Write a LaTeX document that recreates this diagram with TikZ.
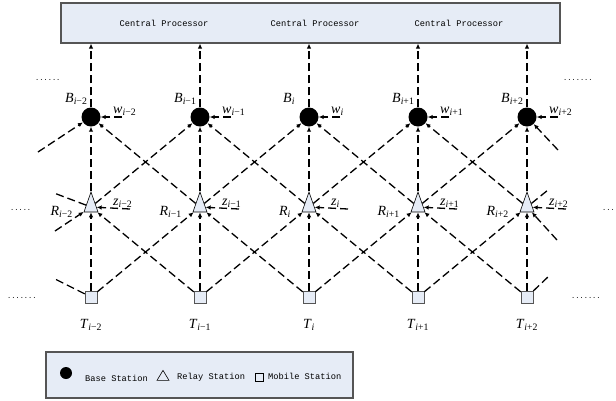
\documentclass[tikz,border=0pt]{standalone}
\usepackage{fontspec}
\setmainfont{Liberation Serif}
\setmonofont{Liberation Mono}
\usepackage{tikz}
\usetikzlibrary{shapes.geometric, arrows.meta, positioning}

\definecolor{panel}{RGB}{230,236,246}
\definecolor{frame}{RGB}{85,85,85}
\newcommand{\lbl}[2]{\textit{#1}\textsubscript{\textit{i}#2}}

\begin{document}
\begin{tikzpicture}[
  x=1pt, y=-1pt,
  panelbox/.style={rectangle, draw=frame, line width=1.2pt, fill=panel},
  bsnode/.style={circle, fill=black, minimum size=19pt, inner sep=0pt},
  rsnode/.style={isosceles triangle, isosceles triangle stretches,
                 shape border rotate=90, draw=black, line width=0.6pt,
                 fill=panel, minimum width=14pt, minimum height=20pt, inner sep=0pt},
  msnode/.style={rectangle, draw=frame, line width=0.6pt, fill=panel,
                 minimum size=12pt, inner sep=0pt},
  caption/.style={font=\fontsize{8.7}{10}\ttfamily, inner sep=0pt},
  mathlbl/.style={font=\fontsize{14}{16}\selectfont, inner sep=0pt},
  dots/.style={font=\fontsize{7}{8}\ttfamily, inner sep=0pt},
  link/.style={line width=1.3pt, dash pattern=on 8pt off 4pt},
  arrow/.style={link, -{Latex[length=5pt,width=4.5pt]}}
]
\useasboundingbox (0,0) rectangle (616,400);

% central processor
\node[panelbox, minimum width=499pt, minimum height=40pt] (cpu) at (310.5,23) {};
\node[caption, anchor=base] (cp1) at (164,26) {Central Processor};
\node[caption, anchor=base] (cp2) at (315,26) {Central Processor};
\node[caption, anchor=base] (cp3) at (459,26) {Central Processor};

% stations, labels and own links
\foreach \k/\s in {1/{−2},2/{−1},3/{},4/{+1},5/{+2}} {
  \pgfmathsetmacro\x{91+109*(\k-1)}
  \node[bsnode] (bs\k) at (\x,117) {};
  \node[rsnode] (rs\k) at (\x,207) {};
  \node[msnode] (ms\k) at (\x,297) {};
  \node[mathlbl, anchor=base west] (bl\k) at (\x-26,102) {\lbl{B}{\s}};
  \node[mathlbl, anchor=base east] (rl\k) at (\x-18,215) {\lbl{R}{\s}};
  \node[mathlbl, anchor=base] (tl\k) at (\x,328) {\lbl{T}{\s}};
  \node[mathlbl, anchor=base west] (wl\k) at (\x+22,113) {\lbl{w}{\s}};
  \node[mathlbl, anchor=base west] (zl\k) at (\x+22,205) {\lbl{z}{\s}};
  \coordinate (wt\k) at (\x+31,117);
  \coordinate (zt\k) at (\x+39,209);
  \draw[arrow] (wt\k) -- (bs\k);
  \draw[arrow] (zt\k) -- (rs\k);
  \draw[arrow] (ms\k) -- (rs\k);
  \draw[arrow] (rs\k) -- (bs\k);
  \draw[arrow] (bs\k) -- (bs\k |- cpu.south);
}

% crossing links
\foreach \a/\b in {1/2,2/3,3/4,4/5} {
  \draw[arrow] (ms\a) -- (rs\b);
  \draw[arrow] (ms\b) -- (rs\a);
  \draw[arrow] (rs\a) -- (bs\b);
  \draw[arrow] (rs\b) -- (bs\a);
}

% open ends
\coordinate (lb) at (38,152);
\coordinate (lru) at (54,193);
\coordinate (lrd) at (55,231);
\coordinate (lt) at (53,278);
\coordinate (rb) at (558,150);
\coordinate (rru) at (548,190);
\coordinate (rrd) at (557,240);
\coordinate (rt) at (550,275);
\draw[arrow] (lb) -- (bs1);
\draw[link] (rs1) -- (lru);
\draw[arrow] (lrd) -- (rs1);
\draw[link] (ms1) -- (lt);
\draw[arrow] (rb) -- (bs5);
\draw[link] (rs5) -- (rru);
\draw[arrow] (rrd) -- (rs5);
\draw[link] (ms5) -- (rt);

% continuation dots
\node[dots, anchor=base west] (d1) at (35,80) {......};
\node[dots, anchor=base west] (d2) at (563,80) {.......};
\node[dots, anchor=base west] (d3) at (10,210) {.....};
\node[dots, anchor=base east] (d4) at (615,210) {...};
\node[dots, anchor=base west] (d5) at (7,298) {.......};
\node[dots, anchor=base west] (d6) at (571,298) {.......};

% legend
\node[panelbox, minimum width=307pt, minimum height=46pt] (legend) at (199.5,375) {};
\node[bsnode, minimum size=12pt] (lgbs) at (66,373) {};
\node[caption, anchor=base west] (lgbt) at (85,381) {Base Station};
\node[rsnode, minimum width=12pt, minimum height=10pt] (lgrs) at (163,377) {};
\node[caption, anchor=base west] (lgrt) at (177,379) {Relay Station};
\node[msnode, draw=black, minimum size=8pt] (lgms) at (259,377) {};
\node[caption, anchor=base west] (lgmt) at (268,379) {Mobile Station};

\end{tikzpicture}
\end{document}
